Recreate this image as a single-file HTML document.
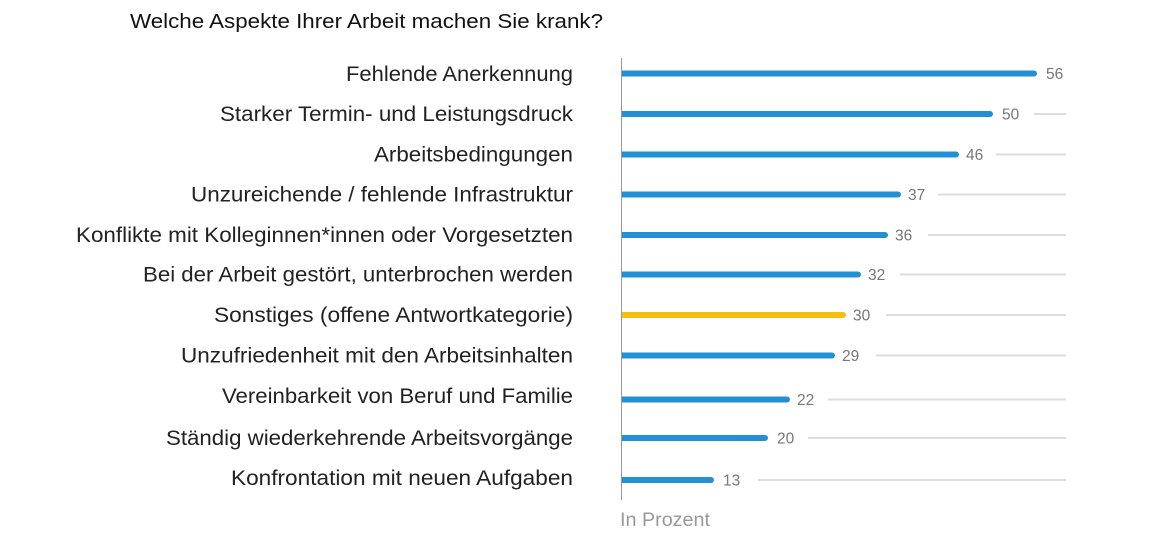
<!DOCTYPE html>
<html><head><meta charset="utf-8"><style>
html,body{margin:0;padding:0;background:#fff;}
svg{display:block;font-family:"Liberation Sans",sans-serif;}
</style></head><body>
<svg width="1160" height="536" viewBox="0 0 1160 536">
<text x="130" y="28" font-size="20.5" fill="#111" textLength="473" lengthAdjust="spacingAndGlyphs">Welche Aspekte Ihrer Arbeit machen Sie krank?</text>
<line x1="621.5" y1="58" x2="621.5" y2="500" stroke="#999" stroke-width="1"/>
<g font-size="21" fill="#222" lengthAdjust="spacingAndGlyphs">
<text x="346" y="81" textLength="227" lengthAdjust="spacingAndGlyphs">Fehlende Anerkennung</text>
<text x="220" y="121" textLength="353" lengthAdjust="spacingAndGlyphs">Starker Termin- und Leistungsdruck</text>
<text x="374" y="161.5" textLength="199" lengthAdjust="spacingAndGlyphs">Arbeitsbedingungen</text>
<text x="191" y="201.5" textLength="382" lengthAdjust="spacingAndGlyphs">Unzureichende / fehlende Infrastruktur</text>
<text x="76" y="242" textLength="497" lengthAdjust="spacingAndGlyphs">Konflikte mit Kolleginnen*innen oder Vorgesetzten</text>
<text x="143" y="281.5" textLength="430" lengthAdjust="spacingAndGlyphs">Bei der Arbeit gestört, unterbrochen werden</text>
<text x="214" y="322" textLength="359" lengthAdjust="spacingAndGlyphs">Sonstiges (offene Antwortkategorie)</text>
<text x="181" y="362.5" textLength="392" lengthAdjust="spacingAndGlyphs">Unzufriedenheit mit den Arbeitsinhalten</text>
<text x="222" y="403" textLength="351" lengthAdjust="spacingAndGlyphs">Vereinbarkeit von Beruf und Familie</text>
<text x="166" y="445" textLength="407" lengthAdjust="spacingAndGlyphs">Ständig wiederkehrende Arbeitsvorgänge</text>
<text x="231" y="485" textLength="342" lengthAdjust="spacingAndGlyphs">Konfrontation mit neuen Aufgaben</text>
</g>
<g stroke="#ddd" stroke-width="2">
<line x1="1034" y1="114" x2="1066" y2="114"/>
<line x1="996" y1="154.5" x2="1066" y2="154.5"/>
<line x1="938" y1="194.5" x2="1066" y2="194.5"/>
<line x1="928" y1="235" x2="1066" y2="235"/>
<line x1="900" y1="274.5" x2="1066" y2="274.5"/>
<line x1="886" y1="315" x2="1066" y2="315"/>
<line x1="876" y1="355.5" x2="1066" y2="355.5"/>
<line x1="828" y1="399.5" x2="1066" y2="399.5"/>
<line x1="808" y1="438" x2="1066" y2="438"/>
<line x1="758" y1="480" x2="1066" y2="480"/>
</g>
<g stroke="#2490d4" stroke-width="6" stroke-linecap="round">
<line x1="625" y1="73.5" x2="1034" y2="73.5"/>
<line x1="625" y1="114" x2="990" y2="114"/>
<line x1="625" y1="154.5" x2="956" y2="154.5"/>
<line x1="625" y1="194.5" x2="898" y2="194.5"/>
<line x1="625" y1="235" x2="885" y2="235"/>
<line x1="625" y1="274.5" x2="858" y2="274.5"/>
<line x1="625" y1="355.5" x2="832" y2="355.5"/>
<line x1="625" y1="399.5" x2="787" y2="399.5"/>
<line x1="625" y1="438" x2="765" y2="438"/>
<line x1="625" y1="480" x2="711" y2="480"/>
<line x1="625" y1="315" x2="843" y2="315" stroke="#f5be0f"/>
</g>
<g fill="#2490d4">
<rect x="622" y="70.5" width="4" height="6"/><rect x="622" y="111" width="4" height="6"/>
<rect x="622" y="151.5" width="4" height="6"/><rect x="622" y="191.5" width="4" height="6"/>
<rect x="622" y="232" width="4" height="6"/><rect x="622" y="271.5" width="4" height="6"/>
<rect x="622" y="352.5" width="4" height="6"/><rect x="622" y="396.5" width="4" height="6"/>
<rect x="622" y="435" width="4" height="6"/><rect x="622" y="477" width="4" height="6"/>
<rect x="622" y="312" width="4" height="6" fill="#f5be0f"/>
</g>
<g font-size="15.5" fill="#777">
<text x="1046" y="79">56</text>
<text x="1002" y="119.5">50</text>
<text x="966" y="160">46</text>
<text x="908" y="200">37</text>
<text x="895" y="240.5">36</text>
<text x="868" y="280">32</text>
<text x="853" y="320.5">30</text>
<text x="842" y="361">29</text>
<text x="797" y="405">22</text>
<text x="777" y="443.5">20</text>
<text x="723" y="485.5">13</text>
</g>
<text x="620" y="526" font-size="19" fill="#999" textLength="90" lengthAdjust="spacingAndGlyphs">In Prozent</text>
</svg>
</body></html>
